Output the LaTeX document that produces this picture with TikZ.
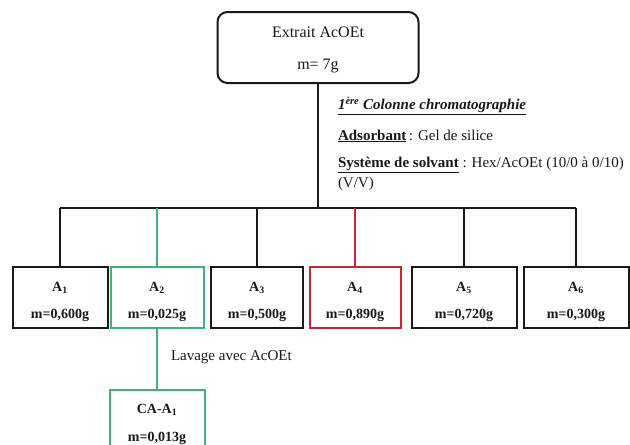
\documentclass[tikz,border=0pt]{standalone}
\usepackage{fontspec}
\setmainfont{Liberation Serif}
\definecolor{grn}{RGB}{60,180,115}
\definecolor{rd}{RGB}{195,40,50}
\definecolor{ink}{RGB}{25,25,25}
\newcommand{\upstrut}[1]{\rule{0pt}{#1}}
\begin{document}
\begin{tikzpicture}[x=1pt,y=-1pt,
  line width=2pt,
  topbox/.style={draw=ink,rounded corners=10pt,minimum width=201pt,minimum height=71pt,align=center,inner sep=0pt,font=\fontsize{16}{19}\selectfont,text=ink},
  fracbox/.style={draw=ink,minimum height=61pt,align=center,inner sep=0pt,font=\fontsize{14}{16.8}\selectfont\bfseries,text=ink},
  info/.style={anchor=west,inner sep=0pt,font=\fontsize{15}{18}\selectfont,text=ink},
  link/.style={draw=ink}
]
\useasboundingbox (0,0) rectangle (630,445);
\fill[white] (0,0) rectangle (630,445);

\node[topbox] (top) at (318,47.5) {\upstrut{16pt}Extrait AcOEt\\[13pt]m= 7g};

\coordinate (bus) at (318,208);

\node[fracbox,minimum width=95pt] (A1) at (60,297.5) {\upstrut{18pt}A\textsubscript{1}\\[11pt]m=0,600g};
\node[fracbox,minimum width=93pt,draw=grn] (A2) at (157,297.5) {\upstrut{18pt}A\textsubscript{2}\\[11pt]m=0,025g};
\node[fracbox,minimum width=92pt] (A3) at (257,297.5) {\upstrut{18pt}A\textsubscript{3}\\[11pt]m=0,500g};
\node[fracbox,minimum width=91pt,draw=rd] (A4) at (355,297.5) {\upstrut{18pt}A\textsubscript{4}\\[11pt]m=0,890g};
\node[fracbox,minimum width=105pt] (A5) at (464,297.5) {\upstrut{18pt}A\textsubscript{5}\\[11pt]m=0,720g};
\node[fracbox,minimum width=105pt] (A6) at (576,297.5) {\upstrut{18pt}A\textsubscript{6}\\[11pt]m=0,300g};

\node[fracbox,draw=none,minimum width=93pt,minimum height=58pt] (CA) at (157,420) {\upstrut{18pt}CA-A\textsubscript{1}\\[11pt]m=0,013g};
\draw[grn] (CA.south west) -- (CA.north west) -- (CA.north east) -- (CA.south east);

% connectors
\draw[link] (top.south) -- (top.south |- bus);
\draw[link] (A1.north |- bus) -- (A6.north |- bus);
\draw[link] (A1.north) -- (A1.north |- bus);
\draw[grn] (A2.north) -- (A2.north |- bus);
\draw[link] (A3.north) -- (A3.north |- bus);
\draw[rd] (A4.north) -- (A4.north |- bus);
\draw[link] (A5.north) -- (A5.north |- bus);
\draw[link] (A6.north) -- (A6.north |- bus);
\draw[grn] (A2.south) -- (CA.north);

% annotations
\node[info] (t1) at (337,106) {\textbf{\textit{\underline{1\textsuperscript{ère} Colonne chromatographie}}}};
\node[info] (t2) at (337,136) {\underline{\textbf{Adsorbant}}\,: Gel de silice};
\node[info] (t3) at (337,165) {\underline{\textbf{Système de solvant}} : Hex/AcOEt (10/0 à 0/10)};
\node[info] (t4) at (337,184) {(V/V)};
\node[info] (lav) at (170,357) {Lavage avec AcOEt};
\end{tikzpicture}
\end{document}
